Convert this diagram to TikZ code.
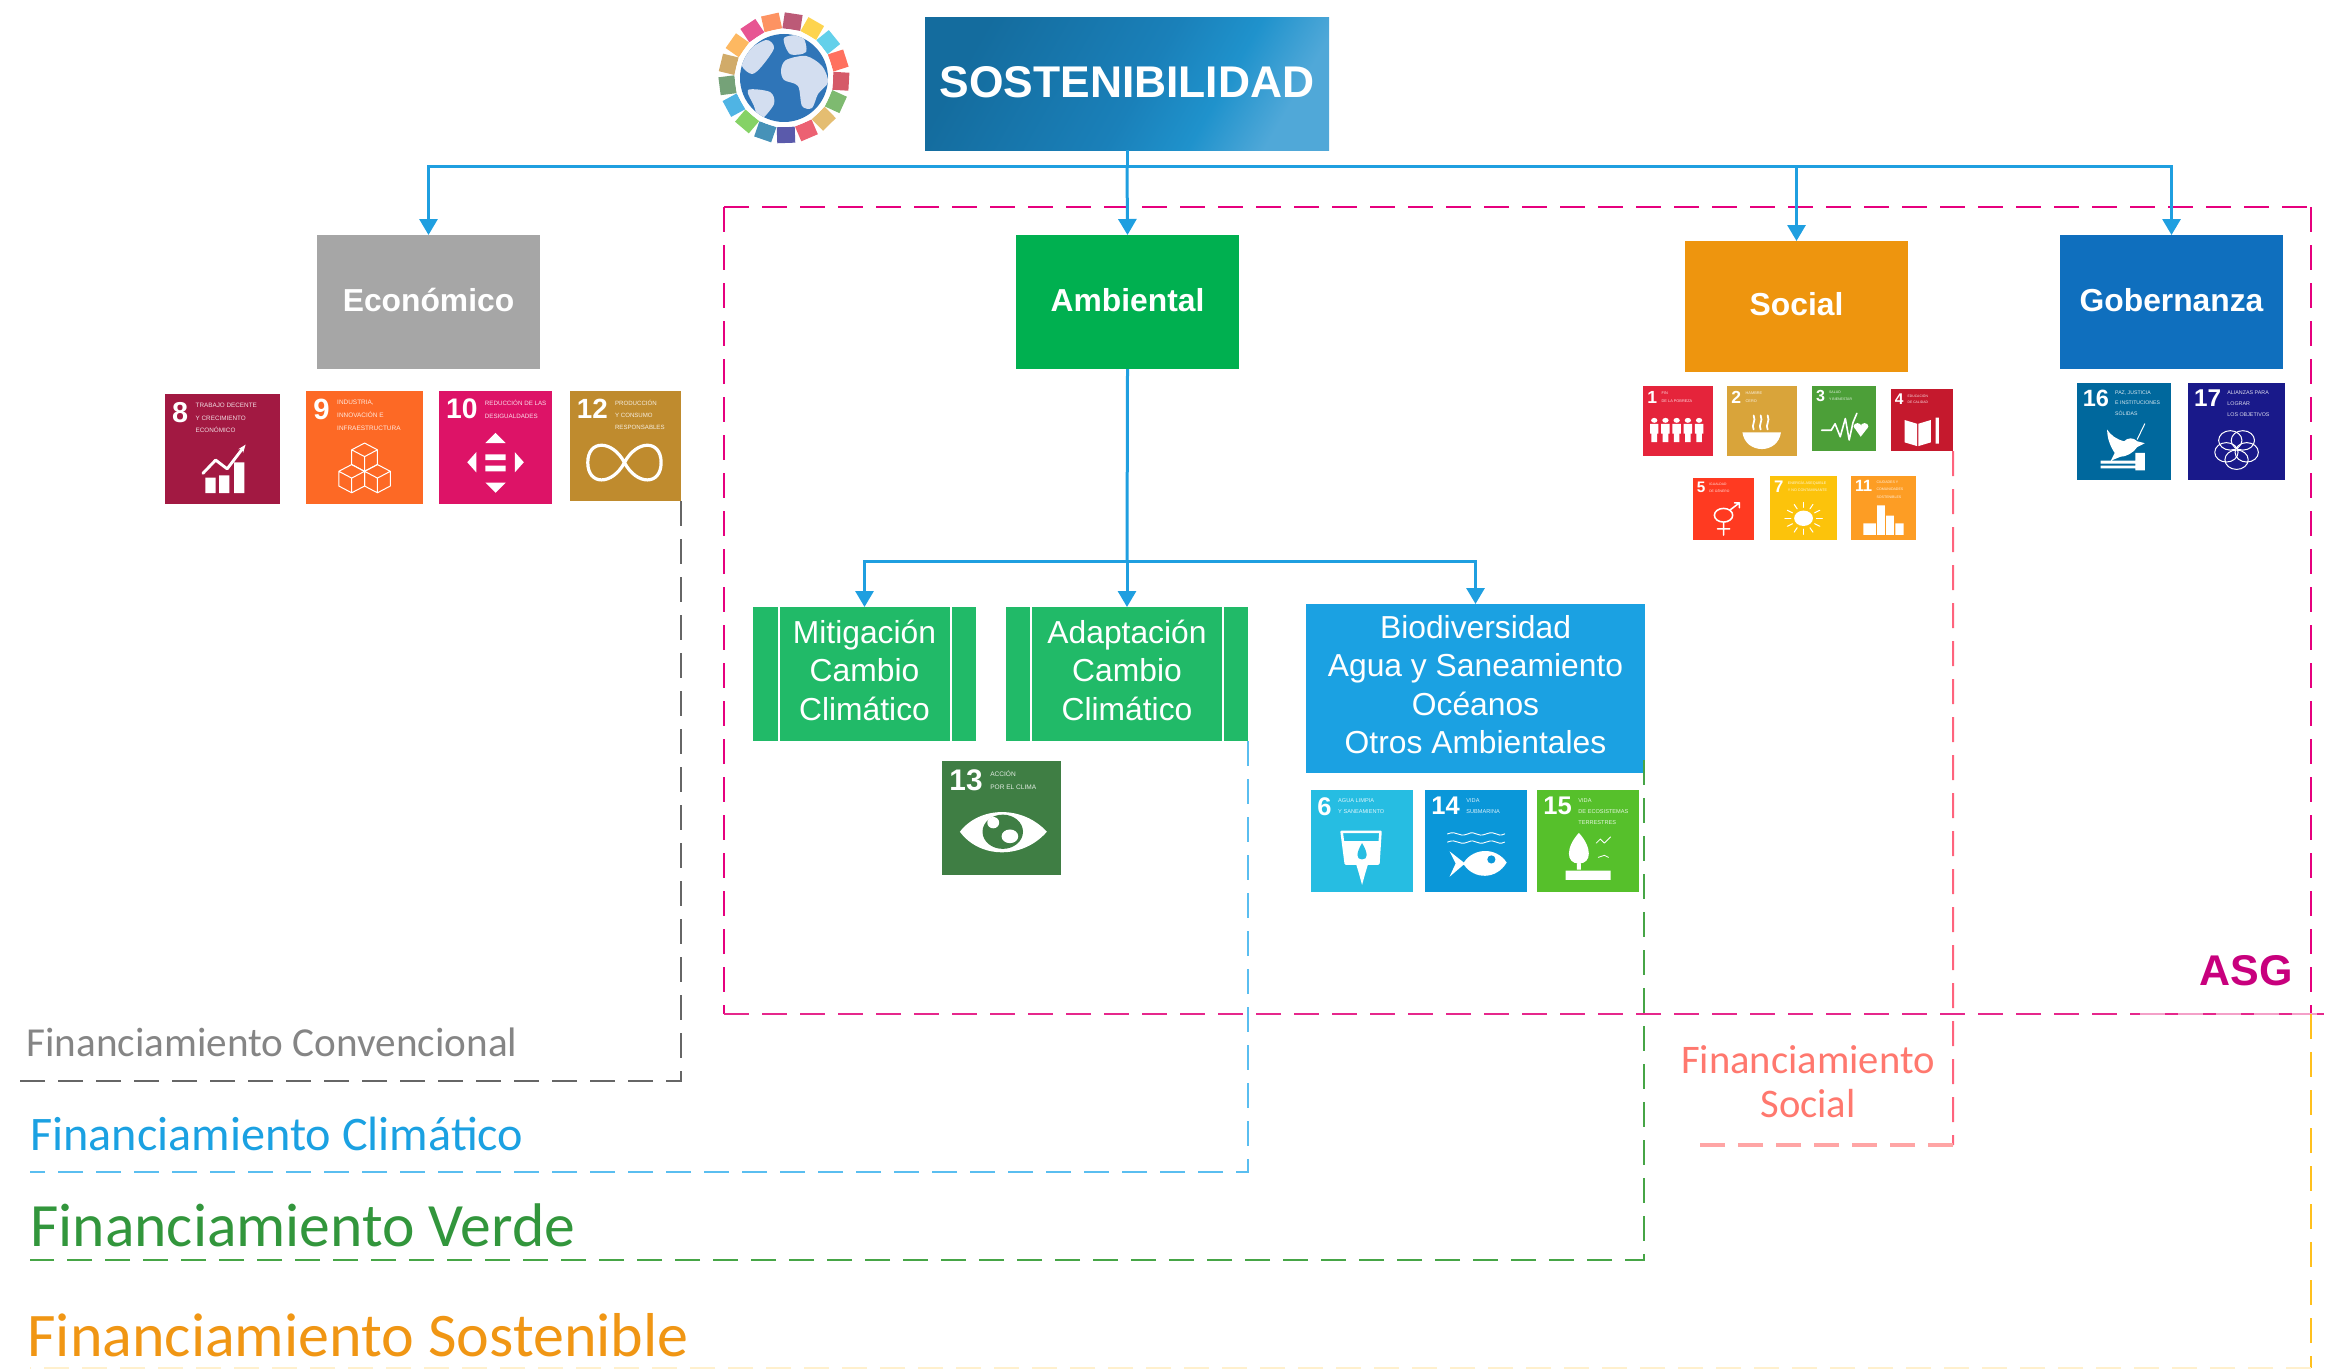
\documentclass[tikz,border=0pt]{standalone}
\usepackage{fontspec}
\setmainfont{Liberation Sans}
\newfontfamily\carl{Carlito}
\usetikzlibrary{arrows.meta,calc}
\definecolor{linkblue}{HTML}{1F9FE0}
\definecolor{magen}{HTML}{E6007E}
\definecolor{magenb}{HTML}{E6288C}
\definecolor{magenc}{HTML}{F4A0C8}
\definecolor{sdgA}{HTML}{E5243B}\definecolor{sdgB}{HTML}{D9A43A}\definecolor{sdgC}{HTML}{4C9F38}
\definecolor{sdgD}{HTML}{C5192D}\definecolor{sdgE}{HTML}{FF3A21}\definecolor{sdgF}{HTML}{26BDE2}
\definecolor{sdgG}{HTML}{FCC30B}\definecolor{sdgH}{HTML}{A21942}\definecolor{sdgI}{HTML}{FD6925}
\definecolor{sdgJ}{HTML}{DD1367}\definecolor{sdgK}{HTML}{FD9D24}\definecolor{sdgL}{HTML}{BF8B2E}
\definecolor{sdgM}{HTML}{3F7E44}\definecolor{sdgN}{HTML}{0A97D9}\definecolor{sdgO}{HTML}{56C02B}
\definecolor{sdgP}{HTML}{00689D}\definecolor{sdgQ}{HTML}{19198A}
\definecolor{shA}{HTML}{146C9E}\definecolor{shB}{HTML}{1A80B9}\definecolor{shC}{HTML}{1F92CC}\definecolor{shD}{HTML}{50A8D8}
\definecolor{ambg}{HTML}{00B050}\definecolor{socg}{HTML}{EE950E}\definecolor{gobg}{HTML}{0F6FBE}
\definecolor{mitg}{HTML}{21BA68}\definecolor{biog}{HTML}{1BA1E2}
\definecolor{globeb}{HTML}{2F75B8}\definecolor{landb}{HTML}{D3DEF0}
\definecolor{lineb}{HTML}{5ABEF0}\definecolor{lineg}{HTML}{46A546}\definecolor{lineo}{HTML}{FFC01E}\definecolor{linep}{HTML}{FFF0CD}
\definecolor{lines}{HTML}{FF647D}\definecolor{linet}{HTML}{FFA5A5}
\definecolor{txtb}{HTML}{1BA1E2}\definecolor{txtg}{HTML}{32963C}\definecolor{txto}{HTML}{F09614}\definecolor{txts}{HTML}{FF786E}\definecolor{txta}{HTML}{C8007D}
\pgfdeclarehorizontalshading{sostshade}{100bp}{color(0bp)=(shA);color(25bp)=(shA);color(52bp)=(shB);color(64bp)=(shC);color(75bp)=(shD);color(100bp)=(shD)}
\tikzset{
  link/.style={draw=linkblue,line width=1.5pt},
  linkarrow/.style={link,-{Triangle[length=8pt,width=9pt]}},
  head/.style={text=white,font=\bfseries\fontsize{15.9}{19}\selectfont,align=center},
  sub/.style={text=white,font=\fontsize{15.9}{19.2}\selectfont,align=center},
  finline/.style={line width=1pt,dash pattern=on 12.5pt off 6.5pt},
  tilebox/.style={anchor=north west,inner sep=0pt,outer sep=0pt},
  inkline/.style={draw=white,fill=none,line cap=round,line join=round}
}
\newcommand\boxn[7]{\node[tilebox,#6,minimum width={(#4-#2)*0.5pt},minimum height={(#5-#3)*0.5pt}] (#1) at (#2,#3) {#7};}
\newcommand\sdg[9]{%
  \pgfmathsetmacro\sdgw{(#4-#2)*0.005}\pgfmathsetmacro\sdgh{(#5-#3)*0.005}%
  \pgfmathsetmacro\sdgf{\sdgw*100*0.25}\pgfmathsetmacro\sdgt{\sdgw*100*0.055}\pgfmathsetmacro\sdgb{\sdgt*2.0}\pgfmathsetmacro\sdgl{\sdgw*100*0.025}%
  \begin{scope}[shift={(#2,#3)},x=\sdgw pt,y=-\sdgh pt,line width=\sdgl pt]
    \node[tilebox,fill=#6,minimum width={\sdgw*100pt},minimum height={\sdgh*100pt}] (#1) at (0,0) {};
    \node[anchor=north west,inner sep=0pt,text=white,font=\bfseries\fontsize{\sdgf}{\sdgf}\selectfont] (#1n) at (5,6) {#7};
    \node[anchor=north west,inner sep=0pt,text=white,opacity=.85,align=left,font=\fontsize{\sdgt}{\sdgb}\selectfont] (#1t) at ([xshift=\sdgw*4pt,yshift=-\sdgh*1pt]#1n.north east) {#8};
    #9
  \end{scope}}
\newcommand\icoEight{\fill[white] (35,76) rectangle (44,90) (47,74) rectangle (56,90) (60,62) rectangle (69,90);
  \draw[inkline,-{Stealth[length=4pt]}] (33,72)--(44,60)--(54,68)--(70,46);}
\newcommand\onecube[2]{\draw[inkline,line width=.5pt] (#1,#2)--++(11,-6)--++(11,6)--++(-11,6)--cycle (#1,#2)--++(0,13)--++(11,6)--++(11,-6)--++(0,-13) ++(-11,6)--++(0,13);}
\newcommand\icoNine{\onecube{39}{52}\onecube{28}{71}\onecube{50}{71}}
\newcommand\icoTen{\fill[white] (50,37)--(59,46)--(41,46)--cycle (50,90)--(59,81)--(41,81)--cycle (25,63)--(33,54)--(33,72)--cycle (75,63)--(67,54)--(67,72)--cycle (41,56) rectangle (59,61) (41,66) rectangle (59,71);}
\newcommand\icoTwelve{\draw[inkline,line width=1.6pt] (49,65) .. controls (60,44) and (82,44) .. (82,65) .. controls (82,86) and (60,86) .. (49,65) .. controls (38,44) and (16,44) .. (16,65) .. controls (16,86) and (38,86) .. (49,65);}
\newcommand\icoOne{\foreach \xp in {16,32,48,64,80}{\fill[white] (\xp,49) circle[x radius=4.5,y radius=3.5] (\xp-6,54) rectangle (\xp+6,68) (\xp-4,68) rectangle (\xp+4,80);}}
\newcommand\icoTwo{\fill[white] (22,66)--(77,66) .. controls (75,82) and (62,90) .. (50,90) .. controls (37,90) and (24,82) .. (22,66)--cycle;
  \foreach \xp in {38,48,58}{\draw[inkline] (\xp,62) .. controls (\xp-4,56) and (\xp+4,50) .. (\xp,42);}}
\newcommand\icoThree{\draw[inkline] (15,68)--(30,68)--(36,58)--(44,78)--(52,50)--(58,83)--(64,56)--(70,42);
  \fill[white] (71,62) circle[x radius=6,y radius=5] (82,62) circle[x radius=6,y radius=5] (66,64)--(87,64)--(76,78)--cycle;}
\newcommand\icoFour{\fill[white] (22,50)--(42,56)--(42,92)--(22,86)--cycle (44,56)--(64,50)--(64,86)--(44,92)--cycle (72,46) rectangle (77,88);}
\newcommand\icoFive{\draw[inkline] (50,60) circle[x radius=15,y radius=11] (50,71)--(50,92) (40,82)--(60,82) (60,52)--(76,40) (68,40)--(76,40)--(76,48);}
\newcommand\icoSeven{\fill[white] (50,66) circle[x radius=14,y radius=12];\foreach \ang in {0,30,...,330}{\draw[inkline,line width=.5pt] ($(50,66)+(\ang:19 and 17)$)--($(50,66)+(\ang:28 and 25)$);}}
\newcommand\icoEleven{\fill[white] (40,46) rectangle (52,92) (19,74) rectangle (38,92) (54,62) rectangle (66,92) (68,74) rectangle (81,92);}
\newcommand\icoSixteen{\fill[white] (32,48) .. controls (36,54) and (42,58) .. (50,60) .. controls (54,56) and (60,56) .. (64,60) -- (72,62) -- (64,66) .. controls (60,72) and (52,76) .. (46,76) -- (36,80)-- (40,72) .. controls (36,66) and (32,58) .. (32,48) -- cycle (25,80) rectangle (62,83) (25,85) rectangle (62,88) (62,72) rectangle (72,90);\draw[inkline,line width=.5pt] (64,58)--(72,42);}
\newcommand\icoSeventeen{\foreach \ang in {90,162,234,306,18}{\draw[inkline,line width=.5pt] ($(50,68)+(\ang:11 and 11)$) circle[x radius=12,y radius=10];}}
\newcommand\icoThirteen{\fill[white] (15,62) .. controls (32,39) and (68,39) .. (88,62) .. controls (68,86) and (32,86) .. (15,62)--cycle;\fill[sdgM] (51,62) circle[x radius=17,y radius=15];\fill[white] (43,54) circle[x radius=5,y radius=5] (57,66) circle[x radius=7,y radius=6];}
\newcommand\icoSix{\draw[inkline] (30,41)--(34,72)--(66,72)--(68,41)--cycle;\fill[white] (32,50)--(67,50)--(66,72)--(34,72)--cycle (44,72)--(56,72)--(53,82)--(50,93)--(47,82)--cycle;\fill[sdgF] (50,52) .. controls (44,62) and (44,68) .. (50,68) .. controls (56,68) and (56,62) .. (50,52);}
\newcommand\icoFourteen{\foreach \yp in {43,51}{\draw[inkline,line width=.45pt] (22,\yp) .. controls (32,\yp-4) and (32,\yp+4) .. (42,\yp) .. controls (50,\yp-4) and (50,\yp+4) .. (60,\yp) .. controls (70,\yp-4) and (70,\yp+4) .. (78,\yp);}
  \fill[white] (24,60)--(38,71) .. controls (48,56) and (70,56) .. (80,71) .. controls (70,88) and (48,88) .. (38,73)--(24,85)--(30,72)--cycle;\fill[sdgN] (65,68) circle[radius=4];}
\newcommand\icoFifteen{\fill[white] (41,42) .. controls (28,56) and (28,72) .. (41,72) .. controls (54,72) and (54,56) .. (41,42)--cycle (39,72) rectangle (43,78) (28,79) rectangle (72,88);\draw[inkline,line width=.4pt] (58,52)--(62,48)--(66,52)--(72,46) (60,66)--(66,64)--(70,66);}
\begin{document}
\begin{tikzpicture}[x=0.5pt,y=-0.5pt]
\useasboundingbox (0,0) rectangle (2332,1370);
% emblem
\begin{scope}[shift={(784,78)}]
  \foreach \i/\c in {0/sdgQ,1/sdgA,2/sdgB,3/sdgC,4/sdgD,5/sdgE,6/sdgF,7/sdgG,8/sdgH,9/sdgI,10/sdgJ,11/sdgK,12/sdgL,13/sdgM,14/sdgN,15/sdgO,16/sdgP}{
    \pgfmathsetmacro\ang{-90+\i*360/17+2}
    \fill[\c!72!white,rotate around={\ang:(0,0)}] (49,-9) rectangle (65,9);
  }
  \fill[white] (0,0) circle[radius=49];
  \fill[globeb] (0,0) circle[radius=44];
  \begin{scope}
    \clip (0,0) circle[radius=44];
    \fill[landb] plot[smooth cycle] coordinates {(2,-18)(22,-22)(38,-12)(44,4)(34,16)(28,30)(18,28)(14,8)(0,2)(-3,-8)};
    \fill[landb] plot[smooth cycle] coordinates {(0,-40)(18,-42)(22,-26)(6,-24)};
    \fill[landb] plot[smooth cycle] coordinates {(-38,-26)(-18,-38)(-10,-30)(-22,-12)(-32,-4)(-42,-12)};
    \fill[landb] plot[smooth cycle] coordinates {(-36,12)(-14,14)(-10,26)(-24,42)(-30,28)};
  \end{scope}
\end{scope}
% main nodes
\boxn{sost}{925}{18}{1329}{150}{shade,shading=sostshade,shading angle=-30,text=white,font=\bfseries\fontsize{22.2}{26}\selectfont}{\raisebox{2.5pt}{SOSTENIBILIDAD}}
\boxn{econ}{317}{235}{540}{369}{fill=black!35,head}{\raisebox{1.8pt}{Económico}}
\boxn{amb}{1016}{235}{1239}{369}{fill=ambg,head}{\raisebox{1.8pt}{Ambiental}}
\boxn{soc}{1685}{241}{1908}{372}{fill=socg,head}{\raisebox{3pt}{Social}}
\boxn{gob}{2060}{235}{2283}{369}{fill=gobg,head}{\raisebox{1.8pt}{Gobernanza}}
\boxn{mit}{753}{607}{976}{741}{fill=mitg,sub}{\raisebox{2.2pt}{\begin{tabular}{@{}c@{}}Mitigación\\Cambio\\Climático\end{tabular}}}
\boxn{ada}{1006}{607}{1248}{741}{fill=mitg,sub}{\raisebox{2.2pt}{\begin{tabular}{@{}c@{}}Adaptación\\Cambio\\Climático\end{tabular}}}
\boxn{bio}{1306}{604}{1645}{773}{fill=biog,sub}{\raisebox{0.4pt}{\begin{tabular}{@{}c@{}}Biodiversidad\\Agua y Saneamiento\\Océanos\\Otros Ambientales\end{tabular}}}
\draw[white,line width=1pt] ([xshift=13pt]mit.north west)--([xshift=13pt]mit.south west) ([xshift=-12.5pt]mit.north east)--([xshift=-12.5pt]mit.south east)
  ([xshift=12.5pt]ada.north west)--([xshift=12.5pt]ada.south west) ([xshift=-12.5pt]ada.north east)--([xshift=-12.5pt]ada.south east);
% tiles
\sdg{t8}{165}{394}{280}{504}{sdgH}{8}{TRABAJO DECENTE\\Y CRECIMIENTO\\ECONÓMICO}{\icoEight}
\sdg{t9}{306}{391}{423}{504}{sdgI}{9}{INDUSTRIA,\\INNOVACIÓN E\\INFRAESTRUCTURA}{\icoNine}
\sdg{t10}{439}{391}{552}{504}{sdgJ}{10}{REDUCCIÓN DE LAS\\DESIGUALDADES}{\icoTen}
\sdg{t12}{570}{391}{681}{501}{sdgL}{12}{PRODUCCIÓN\\Y CONSUMO\\RESPONSABLES}{\icoTwelve}
\sdg{t1}{1643}{386}{1713}{456}{sdgA}{1}{FIN\\DE LA POBREZA}{\icoOne}
\sdg{t2}{1727}{386}{1797}{456}{sdgB}{2}{HAMBRE\\CERO}{\icoTwo}
\sdg{t3}{1812}{386}{1876}{451}{sdgC}{3}{SALUD\\Y BIENESTAR}{\icoThree}
\sdg{t4}{1891}{389}{1953}{451}{sdgD}{4}{EDUCACIÓN\\DE CALIDAD}{\icoFour}
\sdg{t5}{1693}{478}{1754}{540}{sdgE}{5}{IGUALDAD\\DE GÉNERO}{\icoFive}
\sdg{t7}{1770}{476}{1837}{540}{sdgG}{7}{ENERGÍA ASEQUIBLE\\Y NO CONTAMINANTE}{\icoSeven}
\sdg{t11}{1851}{476}{1916}{540}{sdgK}{11}{CIUDADES Y\\COMUNIDADES\\SOSTENIBLES}{\icoEleven}
\sdg{t16}{2077}{383}{2171}{480}{sdgP}{16}{PAZ, JUSTICIA\\E INSTITUCIONES\\SÓLIDAS}{\icoSixteen}
\sdg{t17}{2188}{383}{2285}{480}{sdgQ}{17}{ALIANZAS PARA\\LOGRAR\\LOS OBJETIVOS}{\icoSeventeen}
\sdg{t13}{942}{761}{1061}{875}{sdgM}{13}{ACCIÓN\\POR EL CLIMA}{\icoThirteen}
\sdg{t6}{1311}{790}{1413}{892}{sdgF}{6}{AGUA LIMPIA\\Y SANEAMIENTO}{\icoSix}
\sdg{t14}{1425}{790}{1527}{892}{sdgN}{14}{VIDA\\SUBMARINA}{\icoFourteen}
\sdg{t15}{1537}{790}{1639}{892}{sdgO}{15}{VIDA\\DE ECOSISTEMAS\\TERRESTRES}{\icoFifteen}
% frame points
\coordinate (bus) at (1127,166);
\coordinate (bus2) at (1127,561);
\coordinate (fa) at (724,207);\coordinate (fb) at (2311,207);\coordinate (fc) at (2311,1014);\coordinate (fd) at (724,1014);\coordinate (fe) at (2324,1014);\coordinate (ff) at (2140,1014);
\coordinate (gE) at (18,1081);\coordinate (bE) at (30,1172);\coordinate (vE) at (30,1260);\coordinate (vS) at (1644,760);\coordinate (oE) at (30,1368);\coordinate (oC) at (2311,1368);\coordinate (sC) at (1953,1145);\coordinate (sE) at (1700,1145);
% dashed frames
\draw[magen,finline] (fa)--(fb);
\draw[magen,finline] (fa)--(fd);
\draw[magen,finline] (fb)--(fc);
\draw[magenb,finline] (fd)--(ff);
\draw[magenb,line width=1pt] (ff)--(fe);
\draw[magenc,line width=1.2pt,dash pattern=on 12.5pt off 6.5pt] (ff)--(fe);
\draw[black!60,finline] (t12.south east)|-(gE);
\draw[lineb,finline] (ada.south east)|-(bE);
\draw[lineg,finline] (vS)|-(vE);
\draw[lineo,finline] (fc)--(oC);
\draw[linep,finline] (oC)--(oE);
\draw[lines,finline] (t4.south east)--(sC);
\draw[linet,line width=2pt,dash pattern=on 12.5pt off 6.5pt] (sC)--(sE);
% connectors
\draw[link] (sost.south)--(bus);
\draw[linkarrow] (bus)-|(econ.north);
\draw[linkarrow] (bus)--(amb.north);
\draw[linkarrow] (bus)-|(soc.north);
\draw[linkarrow] (bus)-|(gob.north);
\draw[link] (amb.south)--(bus2);
\draw[linkarrow] (bus2)-|(mit.north);
\draw[linkarrow] (bus2)--(ada.north);
\draw[linkarrow] (bus2)-|(bio.north);
% labels
\node[anchor=west,inner sep=0pt,text=black!48,font=\carl\fontsize{20.6}{24}\selectfont] (lc) at (26,1042) {Financiamiento Convencional};
\node[anchor=west,inner sep=0pt,text=txtb,font=\carl\fontsize{24.1}{26}\selectfont] (lb) at (30,1134) {Financiamiento Climático};
\node[anchor=west,inner sep=0pt,text=txtg,font=\carl\fontsize{30.8}{32}\selectfont] (lv) at (30,1225) {Financiamiento Verde};
\node[anchor=west,inner sep=0pt,text=txto,font=\carl\fontsize{31}{33}\selectfont] (ls) at (27,1335) {Financiamiento Sostenible};
\node[inner sep=0pt,text=txts,align=center,font=\carl\fontsize{20.3}{22}\selectfont] (lso) at (1808,1082) {Financiamiento\\Social};
\node[inner sep=0pt,text=txta,font=\bfseries\fontsize{21.5}{24}\selectfont] (asg) at (2246,971) {ASG};
\end{tikzpicture}
\end{document}
